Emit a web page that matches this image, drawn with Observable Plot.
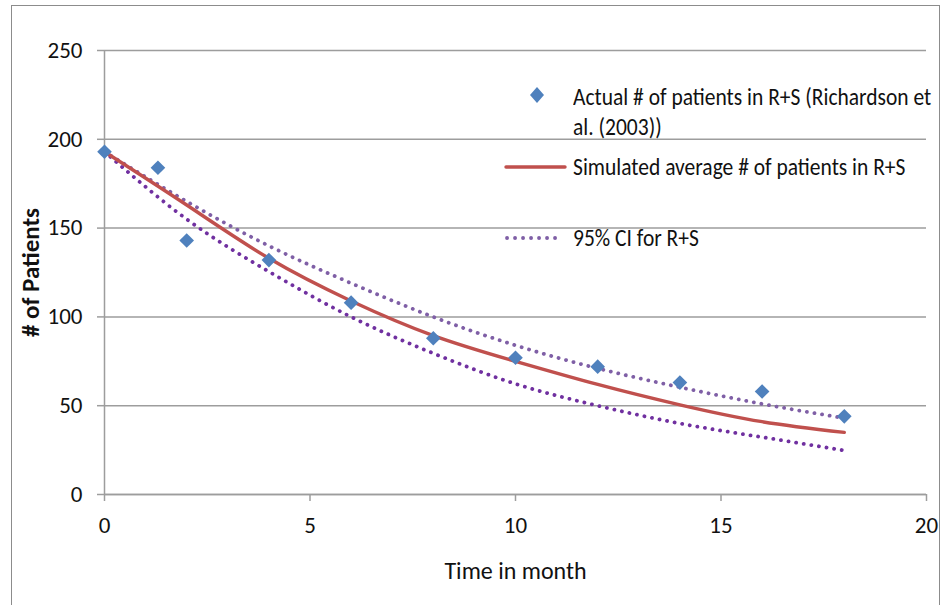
<!DOCTYPE html>
<html>
<head>
<meta charset="utf-8">
<script src="https://cdn.jsdelivr.net/npm/d3@7"></script>
<script src="https://cdn.jsdelivr.net/npm/@observablehq/plot@0.6"></script>
<style>
  html, body { margin: 0; padding: 0; background: #fff; overflow: hidden; }
  #wrap { position: relative; width: 943px; height: 605px; font-family: Carlito, 'Liberation Sans Narrow', Lato, 'Open Sans', sans-serif; }
  #frame { position: absolute; left: 11px; top: 5px; width: 929px; height: 640px; border: 1.5px solid #8c8c8c; box-sizing: border-box; pointer-events: none; }
  #chart { position: absolute; left: 0; top: 0; }
  .leg { position: absolute; font-size: 21.5px; color: #111; white-space: nowrap; line-height: 30px; transform: scaleY(1.12); transform-origin: left center; }
  .sw { position: absolute; overflow: visible; }
</style>
</head>
<body>
<div id="wrap">
  <div id="frame"></div>
  <div id="chart"></div>
</div>
<script>
// ---- data ----
const actualMonths   = [0, 1.3, 2, 4, 6, 8, 10, 12, 14, 16, 18];
const actualPatients = [193, 184, 143, 132, 108, 88, 77, 72, 63, 58, 44];

const simMonths   = [0, 2, 4, 6, 8, 10, 12, 14, 16, 18];
const simAverage  = [193, 163, 133, 109, 89.5, 75, 62, 50.5, 41, 35];
const upperCI     = [193, 165, 140, 119, 100, 84, 71, 60.4, 51, 43];
const lowerCI     = [193, 155, 125.5, 100, 79.5, 62.3, 50, 40, 32.3, 24.8];

const xTicks = [0, 5, 10, 15, 20];
const yTicks = [0, 50, 100, 150, 200, 250];

const seriesLabels = [
  "Actual # of patients in R+S (Richardson et",
  "al. (2003))",
  "Simulated average # of patients in R+S",
  "95% CI for R+S"
];
const xLabel = "Time in month";
const yLabel = "# of Patients";

// ---- tables ----
const actual = actualMonths.map((t, i) => ({t, v: actualPatients[i]}));
const sim = simMonths.map((t, i) => ({t, v: simAverage[i]}));
const up = simMonths.map((t, i) => ({t, v: upperCI[i]}));
const lo = simMonths.map((t, i) => ({t, v: lowerCI[i]}));

const GRID = "#9d9d9d";
const RED = "#C0504D";
const BLUE = "#4F81BD";
const PURPLE_UP = "#7F5FA6";
const PURPLE_LO = "#7030A0";
const FONT = "Carlito, 'Liberation Sans Narrow', Lato, 'Open Sans', sans-serif";

const chart = Plot.plot({
  width: 943,
  height: 605,
  marginLeft: 104,
  marginRight: 17,
  marginTop: 50,
  marginBottom: 111,
  x: {domain: [0, 20]},
  y: {domain: [0, 250]},
  style: {
    fontFamily: FONT,
    fontSize: "23px",
    color: "#111",
    background: "transparent"
  },
  marks: [
    Plot.gridY(yTicks, {stroke: GRID, strokeOpacity: 1, strokeWidth: 1.5}),
    Plot.axisY(yTicks, {tickSize: 7, tickPadding: 15, stroke: GRID, strokeWidth: 1.5, fill: "#111", fontSize: 23, label: null}),
    Plot.axisX(xTicks, {tickSize: 7, tickPadding: 15, stroke: GRID, strokeWidth: 1.5, fill: "#111", fontSize: 23, label: null}),
    Plot.ruleX([0], {stroke: GRID, strokeWidth: 1.5}),
    Plot.ruleY([0], {stroke: GRID, strokeWidth: 1.5}),
    Plot.line(up, {x: "t", y: "v", curve: "natural", stroke: PURPLE_UP, strokeWidth: 3.8, strokeDasharray: "0.1 7.6", strokeLinecap: "round"}),
    Plot.line(lo, {x: "t", y: "v", curve: "natural", stroke: PURPLE_LO, strokeWidth: 3.8, strokeDasharray: "0.1 7.6", strokeLinecap: "round"}),
    Plot.line(sim, {x: "t", y: "v", curve: "natural", stroke: RED, strokeWidth: 3.4}),
    Plot.dot(actual, {x: "t", y: "v", symbol: "diamond2", r: 6.6, fill: BLUE, stroke: null}),
    Plot.text([yLabel], {frameAnchor: "left", dx: -74, rotate: -90, textAnchor: "middle", fontWeight: "bold", fontSize: 25, fill: "#111"}),
    Plot.text([xLabel], {frameAnchor: "bottom", dy: 84, textAnchor: "middle", fontSize: 24, fill: "#111"})
  ]
});
document.getElementById("chart").appendChild(chart);

// ---- legend (overlay) ----
const wrap = document.getElementById("wrap");
function addText(str, x, cy) {
  const d = document.createElement("div");
  d.className = "leg";
  d.textContent = str;
  d.style.left = x + "px";
  d.style.top = (cy - 15) + "px";
  wrap.appendChild(d);
}
function addSwatch(svgInner, x, y, w, h) {
  const ns = "http://www.w3.org/2000/svg";
  const s = document.createElementNS(ns, "svg");
  s.setAttribute("class", "sw");
  s.setAttribute("width", w);
  s.setAttribute("height", h);
  s.style.left = x + "px";
  s.style.top = y + "px";
  s.innerHTML = svgInner;
  wrap.appendChild(s);
}
addSwatch(`<path d="M7,0 L14,8 L7,16 L0,8 Z" fill="${BLUE}"/>`, 530, 87, 14, 16);
addText(seriesLabels[0], 573, 97);
addText(seriesLabels[1], 573, 127);
addSwatch(`<line x1="1" y1="5" x2="60" y2="5" stroke="${RED}" stroke-width="3.4" stroke-linecap="round"/>`, 505, 162, 62, 10);
addText(seriesLabels[2], 573, 167);
addSwatch(`<line x1="2" y1="5" x2="58" y2="5" stroke="${PURPLE_UP}" stroke-width="3.8" stroke-dasharray="0.1 7.9" stroke-linecap="round"/>`, 505, 233, 62, 10);
addText(seriesLabels[3], 573, 238);
</script>
</body>
</html>
